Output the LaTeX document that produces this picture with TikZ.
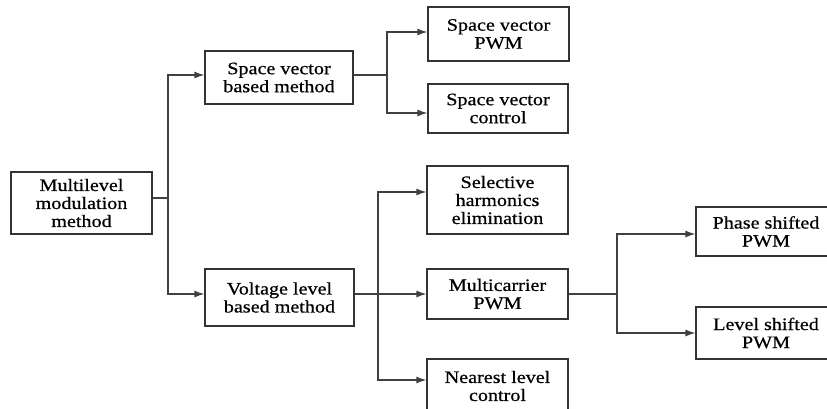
\documentclass[tikz,border=0pt]{standalone}
\usepackage{fontspec}
\setmainfont{Liberation Serif}[FakeStretch=1.15,FakeBold=0.6]
\usetikzlibrary{arrows.meta}
\begin{document}
\begin{tikzpicture}[x=1pt,y=-1pt,
  box/.style={draw=black!80, line width=1.2pt, fill=white, inner sep=0pt,
    align=center, text=black,
    font=\fontsize{17.5}{18}\selectfont},
  link/.style={draw=black!75, line width=1.2pt},
  arr/.style={link, -{Latex[length=10pt,width=7pt]}}]
\useasboundingbox (0,0) rectangle (827,408);
\clip (0,0) rectangle (827,408);

% boxes (centre positions, explicit sizes)
\node[box, minimum width=141, minimum height=62] (mm)  at (81.5,203)  {Multilevel\\modulation\\method};
\node[box, minimum width=148, minimum height=53] (svb) at (279,77.5)  {Space vector\\based method};
\node[box, minimum width=149, minimum height=57] (vlb) at (279.5,297.5) {Voltage level\\based method};
\node[box, minimum width=141, minimum height=54] (svp) at (498.5,34)  {Space vector\\PWM};
\node[box, minimum width=140, minimum height=49] (svc) at (498,108.5) {Space vector\\control};
\node[box, minimum width=141, minimum height=68] (she) at (497.5,200) {Selective\\harmonics\\elimination};
\node[box, minimum width=141, minimum height=50] (mcp) at (497.5,294) {Multicarrier\\PWM};
\node[box, minimum width=141, minimum height=54] (nlc) at (497.5,386) {Nearest level\\control};
\node[box, minimum width=140, minimum height=49] (psp) at (766,231.5) {Phase shifted\\PWM};
\node[box, minimum width=140, minimum height=52] (lsp) at (766,333)   {Level shifted\\PWM};

% junction points
\coordinate (j1) at (168,198);
\coordinate (j2) at (387,75);
\coordinate (j3) at (378,294);
\coordinate (j4) at (617,294);

% first split
\draw[link] ([yshift=5pt]mm.east) -- (j1);
\draw[arr] (j1) |- (svb.west |- {(0,75)});
\draw[arr] (j1) |- (vlb.west |- {(0,294)});

% space vector branch
\draw[link] (svb.east |- j2) -- (j2);
\draw[arr] (j2) |- (svp.west |- {(0,32)});
\draw[arr] (j2) |- (svc.west |- {(0,113)});

% voltage level branch
\draw[arr] (vlb.east |- j3) -- (mcp.west |- j3);
\draw[arr] (j3) |- (she.west |- {(0,192)});
\draw[arr] (j3) |- (nlc.west |- {(0,380)});

% multicarrier branch
\draw[link] (mcp.east |- j4) -- (j4);
\draw[arr] (j4) |- (psp.west |- {(0,234)});
\draw[arr] (j4) |- (lsp.west |- {(0,333)});
\end{tikzpicture}
\end{document}
